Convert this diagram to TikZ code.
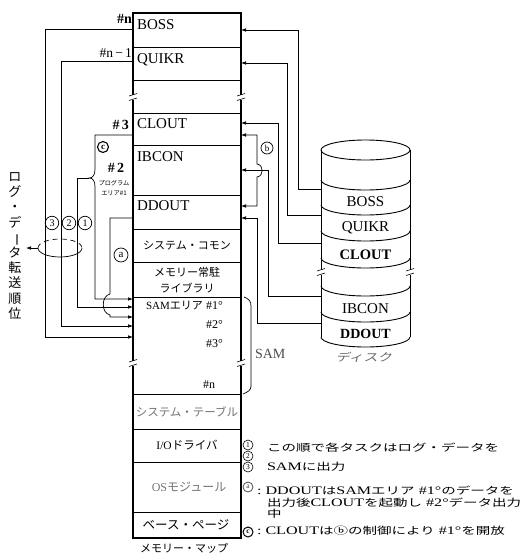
\documentclass[tikz,border=0pt]{standalone}
\usepackage{fontspec}
\usepackage{graphicx}
\setmainfont{Liberation Serif}
\newfontfamily\jpf{Noto Sans CJK JP}
\newfontfamily\jpw[FakeStretch=1.45]{Noto Sans CJK JP}
\newfontfamily\jpi[FakeStretch=1.3,FakeSlant=0.2]{Noto Sans CJK JP}
\newfontfamily\serw[FakeStretch=1.4]{Liberation Serif}
\usetikzlibrary{arrows.meta}
\newcommand\fs[1]{\fontsize{#1}{#1}\selectfont}
\newcommand\J[1]{{\jpf #1}}
\newcommand\LW[1]{{\fontsize{11.5}{10}\selectfont\serw #1}}
\newcommand\JW[1]{{\jpw #1}}
\newcommand\brkmark[2]{%
  \fill[white] ({#1-3},{#2-2.5}) rectangle ({#1+3},{#2+2.5});
  \draw[line width=0.6pt] ({#1-4},{#2-1}) -- ({#1+4},{#2-3.5});
  \draw[line width=0.6pt] ({#1-4},{#2+3.5}) -- ({#1+4},{#2+1});}
\newcommand\darc[1]{%
  \draw[dline] (321,#1) .. controls (321,{#1+5.5}) and (340.9,{#1+10}) .. (365.5,{#1+10})
     .. controls (390.1,{#1+10}) and (410,{#1+5.5}) .. (410,#1);}
\begin{document}
\begin{tikzpicture}[x=1pt,y=-1pt,
  conn/.style={line width=0.7pt},
  arr/.style={-{Latex[length=5pt,width=3.6pt]}},
  arrboth/.style={{Latex[length=5pt,width=3.6pt]}-{Latex[length=5pt,width=3.6pt]}},
  box/.style={line width=1.3pt},
  rowline/.style={line width=0.9pt},
  dline/.style={line width=0.9pt},
  txt/.style={inner sep=0pt, outer sep=0pt},
  circ/.style={circle, draw, line width=0.7pt, inner sep=0pt, minimum size=13.5pt, font=\fs{10}},
  legc/.style={circle, draw, line width=0.6pt, inner sep=0pt, minimum size=10pt, font=\fs{7.5}}]
\useasboundingbox (0,0) rectangle (529,554);

% ---------- memory map ----------
\draw[box] (133,13) rectangle (241,538);
\foreach \y in {47,80,113,145,195,229,262,297,394,429,462,512}
  \draw[rowline] (133,\y) -- (241,\y);
\brkmark{133}{97}\brkmark{241}{97}\brkmark{133}{363}\brkmark{241}{363}

\node[txt,anchor=west,font=\fs{15}] (tBoss) at (137,25) {BOSS};
\node[txt,anchor=west,font=\fs{15}] (tQuikr) at (137,60) {QUIKR};
\node[txt,anchor=west,font=\fs{15}] (tClout) at (137,124) {CLOUT};
\node[txt,anchor=west,font=\fs{15}] (tIbcon) at (137,157) {IBCON};
\node[txt,anchor=west,font=\fs{15}] (tDdout) at (137,206) {DDOUT};
\node[txt,font=\fs{11}\jpf] (tSysc) at (187,246) {システム・コモン};
\node[txt,font=\fs{11}\jpf] (tLib1) at (187,272) {メモリー常駐};
\node[txt,font=\fs{11}\jpf] (tLib2) at (187,288) {ライブラリ};
\node[txt,anchor=west,font=\fs{11}] (tSam) at (146,306) {SAM\J{エリア}};
\node[txt,anchor=west,font=\fs{12}] (tS1) at (206,306) {\#1°};
\node[txt,anchor=west,font=\fs{12}] (tS2) at (206,325) {\#2°};
\node[txt,anchor=west,font=\fs{12}] (tS3) at (206,344) {\#3°};
\node[txt,anchor=west,font=\fs{12}] (tSn) at (203,385) {\#n};
\node[txt,font=\fs{11.5}\jpf,text=black!55] (tSyst) at (187,412) {システム・テーブル};
\node[txt,font=\fs{11.5}] (tIo) at (187,445) {I/O\J{ドライバ}};
\node[txt,font=\fs{12},text=black!55] (tOs) at (189,487) {OS\J{モジュール}};
\node[txt,font=\fs{12.5}\jpf] (tBase) at (186,525) {ベース・ページ};
\node[txt,font=\fs{11}\jpf] (tMap) at (184,548) {メモリー・マップ};

% ---------- left labels ----------
\node[txt,anchor=east,font=\bfseries\fs{14}] (lN) at (132,19) {\#n};
\node[txt,anchor=east,font=\fs{13.5}] (lN1) at (132,53) {\#n\,−\,1};
\node[txt,anchor=east,font=\bfseries\fs{14}] (l3) at (129,125) {\#\,3};
\node[circ,line width=1.1pt,minimum size=11pt,font=\bfseries\fs{9}] (cc) at (103,147) {c};
\node[txt,font=\bfseries\fs{14}] (l2) at (116,168) {\#\,2};
\node[txt,font=\fs{6.2}\jpf] (lp1) at (114,183) {プログラム};
\node[txt,font=\fs{6.2}\jpf] (lp2) at (114,193) {エリア\#1};

% ---------- ports ----------
\coordinate (mBossL) at (133,29);
\coordinate (mQuikrL) at (133,61);
\coordinate (mCloutL) at (133,135);
\coordinate (mDdoutL) at (133,218);
\coordinate (sam1) at (133,299);
\coordinate (sam2) at (133,307);
\coordinate (sama) at (133,317);
\coordinate (samq) at (133,326);
\coordinate (samb) at (133,337);
\coordinate (braceTip) at (89,178);
\coordinate (mBossR) at (241,30);
\coordinate (mQuikrR) at (241,63);
\coordinate (mCloutR) at (241,123);
\coordinate (mBtop) at (241,135);
\coordinate (mIbconR) at (241,170);
\coordinate (mBbot) at (241,206);
\coordinate (mDdoutR) at (241,218);
\coordinate (dBoss) at (321,189);
\coordinate (dQuikr) at (321,215);
\coordinate (dClout) at (321,243);
\coordinate (dIbcon) at (321,296);
\coordinate (dDdout) at (321,323);

% ---------- left connectors ----------
\draw[conn,arr] (mBossL) -- ++(-88,0) |- (samb);
\draw[conn,arr] (mQuikrL) -- ++(-72,0) |- (samq);
\draw[conn,arr] (mCloutL) -| (95,169) .. controls (95,175) and (93,178) .. (braceTip)
   .. controls (93,178) and (95,181) .. (95,187) |- (sam1);
\draw[conn,arr] (braceTip) -- ++(-12,0) |- (sam2);
\draw[conn,arr] (mDdoutL) -| (110,294) .. controls (101,296) and (101,313) .. (110,315) |- (sama);

\node[circ] (c3) at (52,223) {3};
\node[circ] (c2) at (69,223) {2};
\node[circ] (c1) at (85,223) {1};
\node[circ,minimum size=14pt,font=\fs{11}] (ca) at (121,255) {a};

% transfer order ellipse and arrow
\coordinate (ellL) at (38,248);
\coordinate (ellArrow) at (26,248);
\draw[conn,dash pattern=on 5pt off 4pt] (ellL) .. controls (38,243) and (47.9,239) .. (60,239)
   .. controls (72.1,239) and (82,243) .. (82,248);
\draw[conn] (ellL) .. controls (38,253) and (47.9,257) .. (60,257)
   .. controls (72.1,257) and (82,253) .. (82,248);
\draw[conn,arr] (ellL) -- (ellArrow);
\node[txt,align=center,font={\fontsize{13}{15.2}\selectfont\jpf}] (vt) at (15,246)
  {ロ\\グ\\・\\デ\\\rotatebox[origin=c]{-90}{ー}\\タ\\転\\送\\順\\位};

% ---------- right connectors ----------
\draw[conn,arr] (dBoss) -- ++(-23,0) |- (mBossR);
\draw[conn,arr] (dQuikr) -- ++(-34,0) |- (mQuikrR);
\draw[conn,arr] (dClout) -- ++(-43,0) |- (mCloutR);
\draw[conn,arr] (dIbcon) -- ++(-53,0) |- (mIbconR);
\draw[conn,arr] (dDdout) -- ++(-64,0) |- (mDdoutR);
\draw[conn,arrboth] (mBtop) -| (257,164) .. controls (264,165) and (264,176) .. (257,177) |- (mBbot);
\node[circ,minimum size=12pt,font=\fs{9}] (cb) at (267,148) {b};

% SAM bracket
\draw[conn] (244,297) .. controls (249,299) and (251,301) .. (251,306) -- (251,386)
   .. controls (251,390) and (248,392) .. (243,394);
\node[txt,anchor=west,font=\fs{14},text=black!70] (lSam) at (255,354) {SAM};

% ---------- disk ----------
\draw[dline] (365.5,150) ellipse [x radius=44.5, y radius=10];
\draw[dline] (321,150) -- (321,337);
\draw[dline] (410,150) -- (410,337);
\foreach \e in {180,205,231,258,286,312,337} {\darc{\e}}
\brkmark{321}{272}\brkmark{410}{272}
\node[txt,font=\fs{15}] (dtBoss) at (365.5,202) {BOSS};
\node[txt,font=\fs{15}] (dtQuikr) at (365.5,228) {QUIKR};
\node[txt,font=\bfseries\fs{14.5}] (dtClout) at (365.5,255) {CLOUT};
\node[txt,font=\fs{15}] (dtIbcon) at (365.5,309) {IBCON};
\node[txt,font=\bfseries\fs{14}] (dtDdout) at (365.5,334) {DDOUT};
\node[txt,font=\fs{11}\jpi,text=black!60] (lDisk) at (364,357) {ディスク};

% ---------- legend ----------
\node[legc] (g1c) at (248,445) {1};
\node[legc] (g2c) at (248,456) {2};
\node[legc] (g3c) at (248,467) {3};
\node[legc,draw=black!70,text=black!70,line width=0.8pt] (gac) at (248,487) {a};
\node[legc,line width=1pt,font=\bfseries\fs{7.5}] (gcc) at (248,532) {c};
\node[txt,anchor=west,font=\fs{10}\jpw] (g1) at (267,448) {この順で各タスクはログ・データを};
\node[txt,anchor=west,font=\fs{10}] (g2) at (267,467) {\LW{SAM}\JW{に出力}};
\node[txt,anchor=west,font=\fs{10}] (g3) at (257,491) {\LW{:\ DDOUT}\JW{は}\LW{SAM}\JW{エリア}\LW{\ \#1°}\JW{のデータを}};
\node[txt,anchor=west,font=\fs{10}] (g4) at (267,502.5) {\JW{出力後}\LW{CLOUT}\JW{を起動し}\LW{\ \#2°}\JW{データ出力}};
\node[txt,anchor=west,font=\fs{10}\jpw] (g5) at (267,514) {中};
\node[txt,anchor=west,font=\fs{10}] (g6) at (257,531) {\LW{:\ CLOUT}\JW{はⓑの制御により}\LW{\ \#1°}\JW{を開放}};
\end{tikzpicture}
\end{document}
